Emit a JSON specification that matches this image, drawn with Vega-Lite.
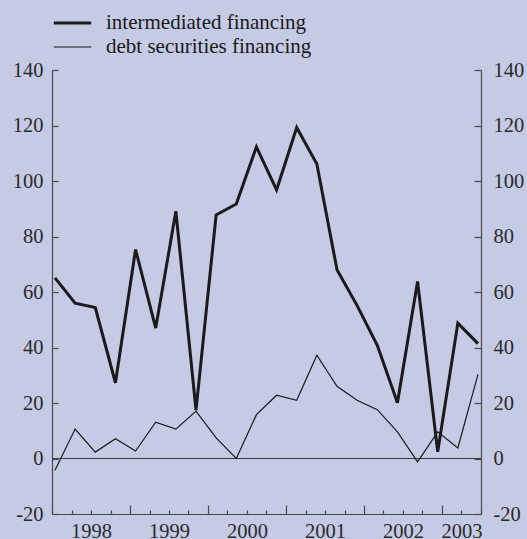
{
  "$schema": "https://vega.github.io/schema/vega-lite/v6.json",
  "width": 429,
  "height": 444,
  "autosize": {"type": "none"},
  "padding": {"left": 52, "top": 70, "right": 46, "bottom": 25},
  "background": "#c5cae5",
  "config": {"view": {"stroke": null}, "font": "Liberation Serif, Times New Roman, DejaVu Serif, serif"},
  "data": {
    "values": [
      {"i": 0, "series": "intermediated financing", "value": 65.1},
      {"i": 1, "series": "intermediated financing", "value": 56.0},
      {"i": 2, "series": "intermediated financing", "value": 54.4},
      {"i": 3, "series": "intermediated financing", "value": 27.3},
      {"i": 4, "series": "intermediated financing", "value": 75.3},
      {"i": 5, "series": "intermediated financing", "value": 47.0},
      {"i": 6, "series": "intermediated financing", "value": 89.1},
      {"i": 7, "series": "intermediated financing", "value": 17.4},
      {"i": 8, "series": "intermediated financing", "value": 87.8},
      {"i": 9, "series": "intermediated financing", "value": 91.7},
      {"i": 10, "series": "intermediated financing", "value": 112.3},
      {"i": 11, "series": "intermediated financing", "value": 96.8},
      {"i": 12, "series": "intermediated financing", "value": 119.3},
      {"i": 13, "series": "intermediated financing", "value": 106.1},
      {"i": 14, "series": "intermediated financing", "value": 68.0},
      {"i": 15, "series": "intermediated financing", "value": 55.1},
      {"i": 16, "series": "intermediated financing", "value": 40.8},
      {"i": 17, "series": "intermediated financing", "value": 20.1},
      {"i": 18, "series": "intermediated financing", "value": 63.8},
      {"i": 19, "series": "intermediated financing", "value": 2.4},
      {"i": 20, "series": "intermediated financing", "value": 48.8},
      {"i": 21, "series": "intermediated financing", "value": 41.4},
      {"i": 0, "series": "debt securities financing", "value": -4.2},
      {"i": 1, "series": "debt securities financing", "value": 10.6},
      {"i": 2, "series": "debt securities financing", "value": 2.3},
      {"i": 3, "series": "debt securities financing", "value": 7.1},
      {"i": 4, "series": "debt securities financing", "value": 2.7},
      {"i": 5, "series": "debt securities financing", "value": 13.1},
      {"i": 6, "series": "debt securities financing", "value": 10.6},
      {"i": 7, "series": "debt securities financing", "value": 17.1},
      {"i": 8, "series": "debt securities financing", "value": 7.4},
      {"i": 9, "series": "debt securities financing", "value": 0.0},
      {"i": 10, "series": "debt securities financing", "value": 15.8},
      {"i": 11, "series": "debt securities financing", "value": 22.8},
      {"i": 12, "series": "debt securities financing", "value": 21.0},
      {"i": 13, "series": "debt securities financing", "value": 37.2},
      {"i": 14, "series": "debt securities financing", "value": 26.0},
      {"i": 15, "series": "debt securities financing", "value": 21.0},
      {"i": 16, "series": "debt securities financing", "value": 17.6},
      {"i": 17, "series": "debt securities financing", "value": 9.6},
      {"i": 18, "series": "debt securities financing", "value": -1.2},
      {"i": 19, "series": "debt securities financing", "value": 9.6},
      {"i": 20, "series": "debt securities financing", "value": 3.8},
      {"i": 21, "series": "debt securities financing", "value": 30.3}
    ]
  },
  "layer": [
    {
      "mark": {"type": "rule", "color": "#3a3a3a", "strokeWidth": 1.1},
      "encoding": {
        "y": {
          "datum": 0,
          "type": "quantitative",
          "scale": {"domain": [-20, 140], "nice": false, "zero": false},
          "axis": {
            "orient": "right",
            "values": [-20, 0, 20, 40, 60, 80, 100, 120, 140],
            "tickSize": -7,
            "labelPadding": 19,
            "labelExpr": "toString(datum.value)",
            "labelFont": "Liberation Serif, Times New Roman, DejaVu Serif, serif",
            "labelFontSize": 20.5,
            "labelColor": "#2a2a2a",
            "domainColor": "#4a4a4a",
            "tickColor": "#4a4a4a",
            "domainWidth": 1.2,
            "tickWidth": 1.2,
            "grid": false,
            "title": null,
            "labelOverlap": false,
            "labelFlush": false,
            "labelBound": false
          }
        }
      }
    },
    {
      "mark": {"type": "line", "color": "#1a1a1a", "strokeJoin": "miter"},
      "encoding": {
        "x": {
          "field": "i",
          "type": "quantitative",
          "scale": {"domain": [-0.149, 21.149], "nice": false, "zero": false},
          "axis": {
            "orient": "bottom",
            "values": [-0.149, 0.8191, 1.7872, 2.7553, 3.7234, 4.6915, 5.6595, 6.6276, 7.5957, 8.5638, 9.5319, 10.5, 11.4681, 12.4362, 13.4043, 14.3724, 15.3404, 16.3085, 17.2766, 18.2447, 19.2128, 20.1809, 21.149],
            "tickSize": {"condition": {"test": "indexof([4,8,12,16,20], round((datum.value+0.149)/0.96809)) >= 0", "value": -9}, "value": -4},
            "labelExpr": "['','','1998','','','','1999','','','','2000','','','','2001','','','','2002','','','2003',''][round((datum.value+0.149)/0.96809)]",
            "labelPadding": 11,
            "labelFont": "Liberation Serif, Times New Roman, DejaVu Serif, serif",
            "labelFontSize": 20.5,
            "labelColor": "#2a2a2a",
            "domainColor": "#4a4a4a",
            "tickColor": "#4a4a4a",
            "domainWidth": 1.2,
            "tickWidth": 1.2,
            "grid": false,
            "title": null,
            "labelOverlap": false,
            "labelFlush": false,
            "labelBound": false
          }
        },
        "y": {
          "field": "value",
          "type": "quantitative",
          "scale": {"domain": [-20, 140], "nice": false, "zero": false},
          "axis": {
            "orient": "left",
            "values": [-20, 0, 20, 40, 60, 80, 100, 120, 140],
            "tickSize": -6,
            "labelPadding": 15,
            "labelExpr": "toString(datum.value)",
            "labelFont": "Liberation Serif, Times New Roman, DejaVu Serif, serif",
            "labelFontSize": 20.5,
            "labelColor": "#2a2a2a",
            "domainColor": "#4a4a4a",
            "tickColor": "#4a4a4a",
            "domainWidth": 1.2,
            "tickWidth": 1.2,
            "grid": false,
            "title": null,
            "labelOverlap": false,
            "labelFlush": false,
            "labelBound": false
          }
        },
        "strokeWidth": {
          "field": "series",
          "type": "nominal",
          "scale": {"domain": ["intermediated financing", "debt securities financing"], "range": [3, 1.2]},
          "legend": {
            "title": null,
            "orient": "none",
            "legendX": 0,
            "legendY": -59,
            "symbolType": "stroke",
            "symbolSize": 1400,
            "symbolStrokeColor": "#1a1a1a",
            "labelFont": "Liberation Serif, Times New Roman, DejaVu Serif, serif",
            "labelFontSize": 21,
            "labelColor": "#1a1a1a",
            "labelOffset": 13,
            "clipHeight": 24,
            "rowPadding": 0,
            "padding": 0,
            "labelLimit": 400
          }
        }
      }
    }
  ],
  "resolve": {"axis": {"y": "independent"}}
}
